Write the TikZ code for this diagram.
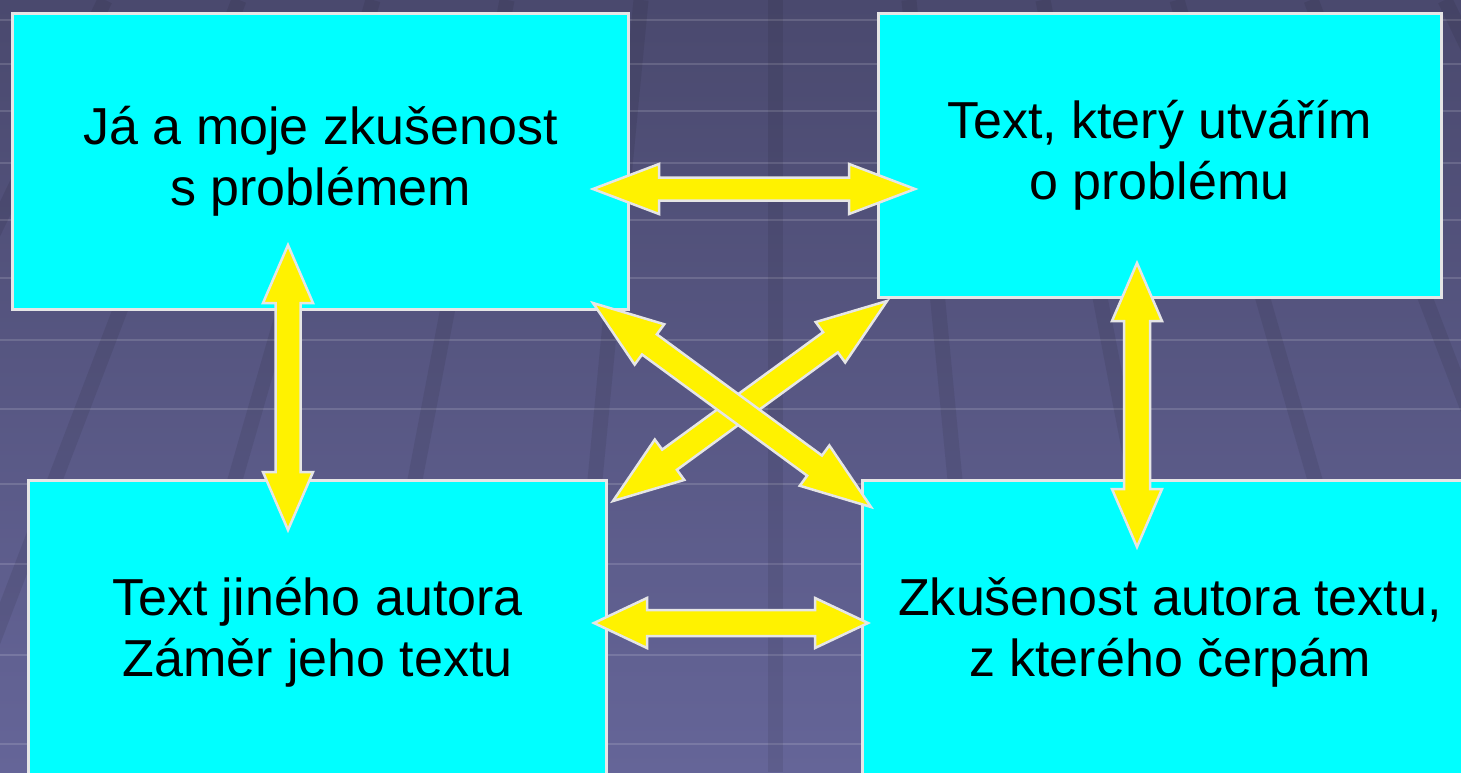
\documentclass[tikz,border=0pt]{standalone}
\usepackage{fontspec}
\setmainfont{Liberation Sans}
\usetikzlibrary{calc}
\definecolor{slatetop}{RGB}{74,73,110}
\definecolor{slatebot}{RGB}{101,101,152}
\definecolor{boxcyan}{RGB}{0,255,255}
\definecolor{rimgray}{RGB}{230,230,230}
\tikzset{
  box/.style={draw=rimgray, line width=0.3mm, fill=boxcyan, inner sep=0pt,
    align=center, font=\fontsize{14.8pt}{17.4pt}\selectfont},
  fatarrow/.style={draw=rimgray, line width=0.25mm, fill=yellow, line join=miter},
  tileline/.style={white, opacity=0.14, line width=0.25mm},
  seam/.style={black, opacity=0.08, line width=1.5mm},
}
% double block arrow between two named coordinates
% #1,#2 tips, #3 head length, #4 head half width, #5 shaft half width
\newcommand{\blockarrow}[5]{%
  \coordinate (ha) at ($(#1)!#3!(#2)$);
  \coordinate (hb) at ($(#2)!#3!(#1)$);
  \draw[fatarrow] (#1) -- ($(ha)!#4!90:(#1)$) -- ($(ha)!#5!90:(#1)$)
    -- ($(hb)!#5!-90:(#2)$) -- ($(hb)!#4!-90:(#2)$) -- (#2)
    -- ($(hb)!#4!90:(#2)$) -- ($(hb)!#5!90:(#2)$)
    -- ($(ha)!#5!-90:(#1)$) -- ($(ha)!#4!-90:(#1)$) -- cycle;}
\begin{document}
\begin{tikzpicture}[x=0.1mm,y=-0.1mm]
	\useasboundingbox (0,0) rectangle (1461,772);
	% background tiles
	\shade[top color=slatetop, bottom color=slatebot] (0,0) rectangle (1461,772);
	\begin{scope}
		\clip (0,0) rectangle (1461,772);
		\draw[tileline] (0,20)-- (1461,20);
		\draw[tileline] (0,64)-- (1461,64);
		\draw[tileline] (0,111)-- (1461,111);
		\draw[tileline] (0,163)-- (1461,163);
		\draw[tileline] (0,220)-- (1461,220);
		\draw[tileline] (0,278)-- (1461,278);
		\draw[tileline] (0,340)-- (1461,340);
		\draw[tileline] (0,409)-- (1461,409);
		\draw[tileline] (0,484)-- (1461,484);
		\draw[tileline] (0,564)-- (1461,564);
		\draw[tileline] (0,655)-- (1461,655);
		\draw[tileline] (0,744)-- (1461,744);
		\draw[seam] (105,0)-- (-265,772);
		\draw[seam] (239,0)-- (-57,772);
		\draw[seam] (373,0)-- (151,772);
		\draw[seam] (507,0)-- (359,772);
		\draw[seam] (641,0)-- (567,772);
		\draw[seam] (775,0)-- (775,772);
		\draw[seam] (909,0)-- (983,772);
		\draw[seam] (1043,0)-- (1191,772);
		\draw[seam] (1177,0)-- (1399,772);
		\draw[seam] (1311,0)-- (1607,772);
		\draw[seam] (1445,0)-- (1815,772);
	\end{scope}
	% boxes
	\node[box, minimum width=61.7mm, minimum height=29.6mm] (me) at (320.5,161) {Já a moje zkušenost\\s problémem};
	\node[box, minimum width=56.3mm, minimum height=28.4mm] (mytext) at (1159.5,155) {Text, který utvářím\\o problému};
	\node[box, minimum width=57.9mm, minimum height=30.5mm] (othertext) at (317.5,632.5) {Text jiného autora\\Záměr jeho textu};
	\node[box, minimum width=61.6mm, minimum height=30.5mm] (otherexp) at (1170,632.5) {Zkušenost autora textu,\\z kterého čerpám};
	% arrow tips
	\coordinate (upL) at (593,189);
	\coordinate (upR) at (915,189);
	\coordinate (lowL) at (594,623);
	\coordinate (lowR) at (868,623);
	\coordinate (leftT) at (288,245);
	\coordinate (leftB) at (288,530);
	\coordinate (rightT) at (1137,263);
	\coordinate (rightB) at (1137,547);
	\coordinate (crossTL) at (593,303);
	\coordinate (crossBR) at (871,507);
	\coordinate (crossBL) at (613,501);
	\coordinate (crossTR) at (887,301);
	% arrows
	\blockarrow{upL}{upR}{6.6mm}{2.5mm}{1.15mm}
	\blockarrow{lowL}{lowR}{5.3mm}{2.5mm}{1.3mm}
	\blockarrow{leftT}{leftB}{5.8mm}{2.5mm}{1.25mm}
	\blockarrow{rightT}{rightB}{5.8mm}{2.5mm}{1.3mm}
	\blockarrow{crossBL}{crossTR}{7mm}{2.5mm}{1.25mm}
	\blockarrow{crossTL}{crossBR}{7mm}{2.5mm}{1.25mm}
\end{tikzpicture}
\end{document}
